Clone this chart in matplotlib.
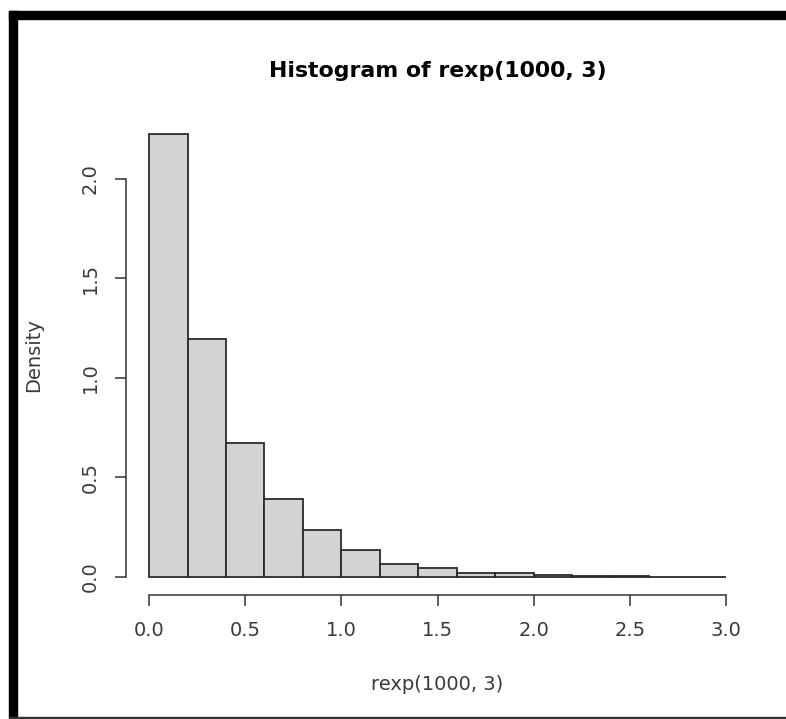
import numpy as np
import matplotlib
matplotlib.use("Agg")
import matplotlib.pyplot as plt
from matplotlib.patches import Rectangle

# histogram bins (width 0.2) and densities
bin_edges = [0.0, 0.2, 0.4, 0.6, 0.8, 1.0, 1.2, 1.4, 1.6, 1.8, 2.0,
             2.2, 2.4, 2.6, 2.8, 3.0]
densities = [2.225, 1.195, 0.670, 0.390, 0.235, 0.135, 0.065, 0.045,
             0.020, 0.020, 0.010, 0.005, 0.005, 0.000, 0.000]
x_ticks = [0.0, 0.5, 1.0, 1.5, 2.0, 2.5, 3.0]
y_ticks = [0.0, 0.5, 1.0, 1.5, 2.0]

plt.rcParams['font.family'] = ['DejaVu Sans']

W, H = 786, 719
fig = plt.figure(figsize=(W / 100, H / 100), dpi=100)

# axes placed like R's default plot region
left, right, top, bottom = 126, 749, 116, 594.5
ax = fig.add_axes([left / W, 1 - bottom / H, (right - left) / W, (bottom - top) / H])

widths = np.diff(bin_edges)
ax.bar(bin_edges[:-1], densities, width=widths, align='edge',
       color='#d3d3d3', edgecolor='#2b2b2b', linewidth=1.3)

xmax = bin_edges[-1]
ymax = max(densities)
ax.set_xlim(-0.04 * xmax, xmax * 1.04)
ax.set_ylim(-0.04 * ymax, ymax * 1.04)

for s in ['top', 'right']:
    ax.spines[s].set_visible(False)
ax.spines['bottom'].set_bounds(x_ticks[0], x_ticks[-1])
ax.spines['left'].set_bounds(y_ticks[0], y_ticks[-1])
for s in ['bottom', 'left']:
    ax.spines[s].set_color('#333333')
    ax.spines[s].set_linewidth(1.1)

ax.set_xticks(x_ticks)
ax.set_xticklabels([f"{v:.1f}" for v in x_ticks])
ax.set_yticks(y_ticks)
ax.set_yticklabels([f"{v:.1f}" for v in y_ticks], rotation=90, va='center')
ax.tick_params(length=8, width=1.1, color='#333333', labelsize=14,
               labelcolor='#3a3a3a', pad=11)

ax.set_title("Histogram of rexp(1000, 3)", fontsize=15.8, fontweight='bold',
             pad=28)
ax.set_xlabel("rexp(1000, 3)", fontsize=14, color='#3a3a3a', labelpad=25)
ax.set_ylabel("Density", fontsize=14, color='#3a3a3a', labelpad=27)

# screenshot frame: thick black on left and top, thin line at bottom
fig.patches.append(Rectangle((9 / W, 0), 8 / W, 1 - 11 / H,
                             transform=fig.transFigure, color='black'))
fig.patches.append(Rectangle((9 / W, 1 - 19 / H), 1 - 9 / W, 8 / H,
                             transform=fig.transFigure, color='black'))
fig.patches.append(Rectangle((9 / W, 1 / H), 1 - 9 / W, 1.5 / H,
                             transform=fig.transFigure, color='#333333'))

fig.savefig("out.png", dpi=100)
